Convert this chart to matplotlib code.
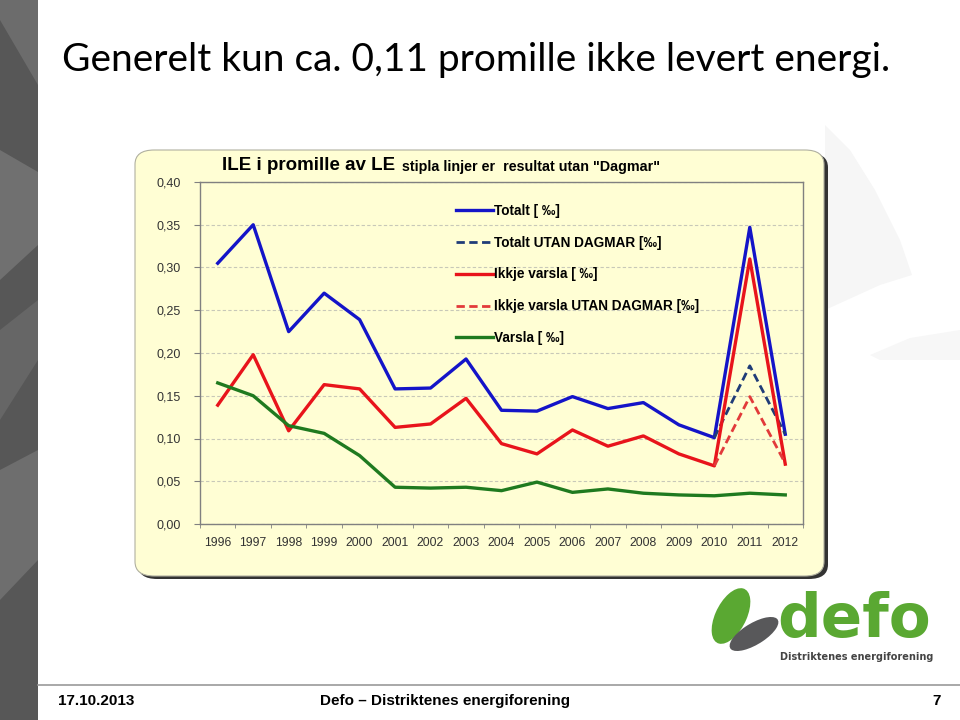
import numpy as np
import matplotlib
matplotlib.use('Agg')
import matplotlib.pyplot as plt
from matplotlib.patches import FancyBboxPatch, Rectangle, Polygon, Ellipse
from matplotlib.ticker import FuncFormatter, MultipleLocator

# data (promille)
years = list(range(1996, 2013))
totalt = [0.305, 0.350, 0.225, 0.270, 0.239, 0.158, 0.159, 0.193, 0.133, 0.132,
          0.149, 0.135, 0.142, 0.116, 0.101, 0.347, 0.105]
ikkje_varsla = [0.139, 0.198, 0.109, 0.163, 0.158, 0.113, 0.117, 0.147, 0.094, 0.082,
                0.110, 0.091, 0.103, 0.082, 0.068, 0.310, 0.070]
varsla = [0.165, 0.150, 0.115, 0.106, 0.080, 0.043, 0.042, 0.043, 0.039, 0.049,
          0.037, 0.041, 0.036, 0.034, 0.033, 0.036, 0.034]
utan_years = [2010, 2011, 2012]
totalt_utan = [0.101, 0.185, 0.105]
ikkje_utan = [0.068, 0.149, 0.071]

W, H = 960, 720
fig = plt.figure(figsize=(9.6, 7.2), dpi=100)
fig.patch.set_facecolor('white')

def fx(px):
    return px / W

def fy(py):
    return 1 - py / H

def poly(pts, c, z=0):
    fig.patches.append(Polygon([(fx(a), fy(b)) for a, b in pts], closed=True,
                               transform=fig.transFigure, facecolor=c,
                               edgecolor='none', zorder=z))

# left grey strip
fig.patches.append(Rectangle((0, 0), fx(38), 1, transform=fig.transFigure,
                             facecolor='#575757', edgecolor='none', zorder=0))
poly([(0, 0), (38, 0), (38, 85), (0, 20)], '#6c6c6c')
poly([(0, 150), (38, 172), (38, 245), (0, 280)], '#707070')
poly([(0, 330), (38, 300), (38, 360), (0, 420)], '#666666')
poly([(0, 470), (38, 450), (38, 560), (0, 600)], '#6e6e6e')

# faint watermark shapes on the right
poly([(825, 125), (850, 150), (875, 190), (900, 240), (912, 275), (880, 285), (825, 310)],
     '#f6f6f6')
poly([(870, 355), (910, 338), (960, 330), (960, 360), (880, 360)], '#f7f7f7')

# slide title
fig.text(fx(62), fy(60), 'Generelt kun ca. 0,11 promille ikke levert energi.',
         fontsize=28, family='Lato', color='black', va='center', ha='left')

# footer
fig.add_artist(plt.Line2D([fx(38), 1], [fy(685), fy(685)], transform=fig.transFigure,
                          color='#9a9a9a', lw=1.2))
fig.text(fx(58), fy(701), '17.10.2013', fontsize=11, fontweight='bold',
         family='Liberation Sans', va='center', ha='left')
fig.text(fx(445), fy(701), 'Defo \u2013 Distriktenes energiforening', fontsize=11,
         fontweight='bold', family='Liberation Sans', va='center', ha='center')
fig.text(fx(937), fy(701), '7', fontsize=11, fontweight='bold',
         family='Liberation Sans', va='center', ha='center')

# chart panel with shadow
fig.patches.append(FancyBboxPatch((fx(138), fy(579)), fx(690), (579 - 153) / H,
                                  boxstyle='round,pad=0,rounding_size=0.02',
                                  transform=fig.transFigure, facecolor='#333333',
                                  edgecolor='none', zorder=1))
fig.patches.append(FancyBboxPatch((fx(135), fy(576)), fx(689), (576 - 150) / H,
                                  boxstyle='round,pad=0,rounding_size=0.02',
                                  transform=fig.transFigure, facecolor='#FFFED4',
                                  edgecolor='#b0b0a0', lw=0.8, zorder=2))

fig.text(fx(222), fy(165), 'ILE i promille av LE', fontsize=13.5, fontweight='bold',
         family='Liberation Sans', va='center', ha='left', zorder=5)
fig.text(fx(402), fy(167), 'stipla linjer er  resultat utan "Dagmar"', fontsize=10.3,
         fontweight='bold', family='Liberation Sans', va='center', ha='left', zorder=5)

ax = fig.add_axes([fx(200), fy(524), fx(603), (524 - 182) / H])
ax.set_zorder(3)
ax.patch.set_alpha(0)

ax.plot(years, totalt, color='#1414c8', lw=2.4, label='Totalt [ \u2030]')
ax.plot(utan_years, totalt_utan, color='#1f3c78', lw=2.0, ls=(0, (3, 1.6)),
        label='Totalt UTAN DAGMAR [\u2030]')
ax.plot(years, ikkje_varsla, color='#e8141b', lw=2.4, label='Ikkje varsla [ \u2030]')
ax.plot(utan_years, ikkje_utan, color='#e23a3a', lw=2.0, ls=(0, (3, 1.6)),
        label='Ikkje varsla UTAN DAGMAR [\u2030]')
ax.plot(years, varsla, color='#1f7a1f', lw=2.4, label='Varsla [ \u2030]')

ax.set_xlim(1995.5, 2012.5)
ax.set_ylim(0, 0.40)
ax.yaxis.set_major_locator(MultipleLocator(0.05))
ax.yaxis.set_major_formatter(FuncFormatter(lambda v, p: f'{v:.2f}'.replace('.', ',')))
ax.set_xticks(years)
ax.set_xticks(np.arange(1995.5, 2013, 1), minor=True)
ax.tick_params(axis='x', which='major', length=0, labelsize=8.8, pad=9)
ax.tick_params(axis='x', which='minor', length=3, color='#808080')
ax.tick_params(axis='y', length=4, color='#808080', labelsize=9, pad=10)
for lab in ax.get_xticklabels() + ax.get_yticklabels():
    lab.set_family('Liberation Sans')
    lab.set_color('#333333')
ax.grid(axis='y', ls=(0, (3, 2)), color='#c8c8b8', lw=0.8)
for s in ax.spines.values():
    s.set_color('#808080')
    s.set_linewidth(1.0)

leg = ax.legend(loc='upper left', bbox_to_anchor=((449 - 200) / 603, (524 - 197) / 342),
                frameon=False, handlelength=2.7, handletextpad=0.1, borderpad=0,
                labelspacing=1.31, prop={'family': 'Liberation Sans', 'weight': 'bold',
                                         'size': 9.8})

# defo logo (approximation)
fig.patches.append(Ellipse((fx(731), fy(616)), fx(32), 58 / H, angle=-18,
                           transform=fig.transFigure, facecolor='#5aa832',
                           edgecolor='none', zorder=2))
fig.add_artist(plt.Line2D([fx(733), fx(731)], [fy(600), fy(645)],
                          transform=fig.transFigure, color='white', lw=2))
fig.patches.append(Ellipse((fx(754), fy(634)), fx(26), 46 / H, angle=-48,
                           transform=fig.transFigure, facecolor='#58585a',
                           edgecolor='none', zorder=2))
fig.add_artist(plt.Line2D([fx(742), fx(762)], [fy(650), fy(630)],
                          transform=fig.transFigure, color='white', lw=1.5))
fig.text(fx(777), fy(621), 'defo', fontsize=44, fontweight='bold',
         family='DejaVu Sans', color='#5aa832', va='center', ha='left')
fig.text(fx(780), fy(657), 'Distriktenes energiforening', fontsize=7,
         fontweight='bold', family='DejaVu Sans', color='#444444', va='center', ha='left')

fig.savefig('out.png', dpi=100)
